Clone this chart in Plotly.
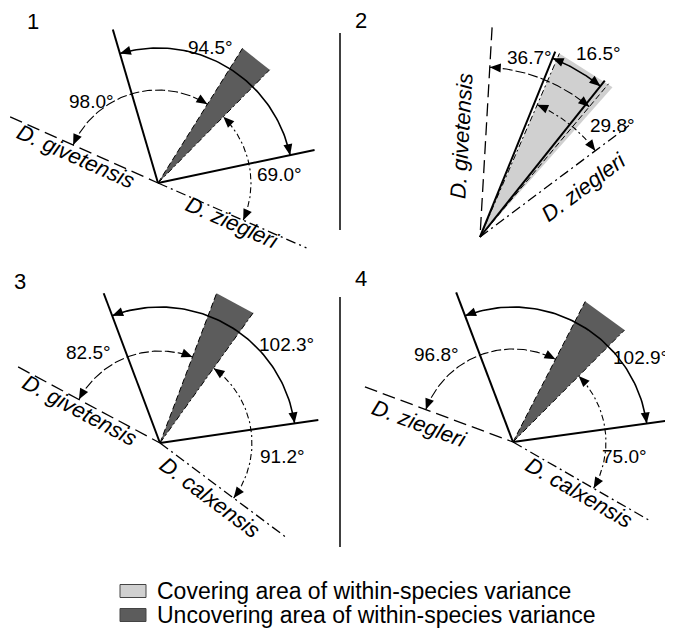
import numpy as np
import plotly.graph_objects as go

# ---------------- data ----------------
panel_ids = ["1", "2", "3", "4"]
between_angle = [94.5, 16.5, 102.3, 102.9]      # solid double arrow between the two solid lines
left_angle = [98.0, 36.7, 82.5, 96.8]           # from left species axis to wedge edge
right_angle = [69.0, 29.8, 91.2, 75.0]          # from right species axis to wedge edge
left_species = ["D. givetensis", "D. givetensis", "D. givetensis", "D. ziegleri"]
right_species = ["D. ziegleri", "D. ziegleri", "D. calxensis", "D. calxensis"]
legend_labels = ["Covering area of within-species variance",
                 "Uncovering area of within-species variance"]

# ---------------- geometry (pixel layout) ----------------
geom = [
    dict(o=(158, 183), solid_dir=11.9, solid_len=160, ldir=155.9, llen=162, rdir=-23.6, rlen=162,
         wedge_r=159, r_b=135, r_l=93, r_r=93,
         lab_b=(210, 47), lab_l=(91, 101), lab_r=(279, 174),
         num=(33, 21), sp_l=(76, 156), sp_r=(232, 222)),
    dict(o=(480, 237), solid_dir=51.4, solid_len=200, ldir=86.7, llen=210, rdir=36.8, rlen=186,
         wedge_r=200, r_b=193, r_l=170, r_r=144,
         lab_b=(598, 53), lab_l=(529, 57), lab_r=(612, 125),
         num=(361, 20), sp_l=(461, 136), sp_r=(583, 187)),
    dict(o=(160, 443), solid_dir=8.3, solid_len=160, ldir=151.8, llen=161, rdir=-36.8, rlen=159,
         wedge_r=160, r_b=136, r_l=92, r_r=92,
         lab_b=(286, 344), lab_l=(88, 352), lab_r=(282, 456),
         num=(20, 281), sp_l=(80, 410), sp_r=(210, 497)),
    dict(o=(513, 442), solid_dir=7.9, solid_len=160, ldir=159.6, llen=158, rdir=-29.9, rlen=160,
         wedge_r=158, r_b=135, r_l=93, r_r=93,
         lab_b=(640, 357), lab_l=(436, 354), lab_r=(624, 456),
         num=(361, 278), sp_l=(419, 423), sp_r=(579, 492)),
]

W, H, OFF = 673, 629, 8   # page body margin offsets the figure by OFF px

DARK = "#5c5c5c"
LIGHT = "#d0d0d0"
FONT = "Liberation Sans, Arial, sans-serif"
DASH = "13px,6px"
DASHDOT = "10px,4px,2px,4px"
ARC_DASH = "10px,3px"
ARC_DASHDOT = "6px,3px,2px,3px"

fig = go.Figure()


def pt(o, ang, r):
    a = np.deg2rad(ang)
    return o[0] + r * np.cos(a), o[1] - r * np.sin(a)


def add_line(xs, ys, width=1.5, dash="solid", color="black"):
    fig.add_trace(go.Scatter(x=list(xs), y=list(ys), mode="lines",
                             line=dict(color=color, width=width, dash=dash),
                             hoverinfo="skip", showlegend=False, cliponaxis=False))


def add_poly(xs, ys, fill, line_color=None, width=0):
    xs = list(xs) + [xs[0]]
    ys = list(ys) + [ys[0]]
    fig.add_trace(go.Scatter(x=xs, y=ys, mode="lines", fill="toself", fillcolor=fill,
                             line=dict(color=line_color or fill, width=width),
                             hoverinfo="skip", showlegend=False))


def arrowhead(o, ang, r, sign, length=11, half=4.5):
    tx, ty = pt(o, ang, r)
    a = np.deg2rad(ang)
    dx, dy = -np.sin(a) * sign, -np.cos(a) * sign   # travel direction (screen)
    bx, by = tx - length * dx, ty - length * dy
    px, py = -dy, dx
    add_poly([tx, bx + half * px, bx - half * px], [ty, by + half * py, by - half * py], "black")


def arc(o, a0, a1, r, width, dash):
    th = np.linspace(a0, a1, 80)
    xs, ys = zip(*[pt(o, t, r) for t in th])
    add_line(xs, ys, width=width, dash=dash)
    s = 1 if a1 > a0 else -1
    arrowhead(o, a1, r, s)
    arrowhead(o, a0, r, -s)


annotations = []


def text(x, y, s, size, angle=0, xanchor="center"):
    annotations.append(dict(x=x, y=y, xref="x", yref="y", text=s, showarrow=False,
                            textangle=angle, xanchor=xanchor, yanchor="middle",
                            font=dict(family=FONT, size=size, color="black")))


def read_angle(d):
    a = d
    if a > 90:
        a -= 180
    if a <= -90:
        a += 180
    return -a


for i, g in enumerate(geom):
    o = g["o"]
    L, R = g["ldir"], g["rdir"]
    edge_l = L - left_angle[i]        # wedge edge reached from left species axis
    edge_r = R + right_angle[i]       # wedge edge reached from right species axis
    covering = edge_l < edge_r
    lo, hi = min(edge_l, edge_r), max(edge_l, edge_r)
    pad = 1.5 if covering else 0.0
    w = g["wedge_r"]

    # wedge
    p1 = pt(o, lo - pad, w)
    p2 = pt(o, hi, w)
    add_poly([o[0], p1[0], p2[0]], [o[1], p1[1], p2[1]], LIGHT if covering else DARK)

    # thin edge lines
    e1 = pt(o, edge_l, w)
    add_line([o[0], e1[0]], [o[1], e1[1]], width=1.0, dash="6px,3px")
    e2 = pt(o, edge_r, w)
    add_line([o[0], e2[0]], [o[1], e2[1]], width=1.0, dash=ARC_DASHDOT)

    # species axes
    sl = pt(o, L, g["llen"])
    add_line([sl[0], o[0]], [sl[1], o[1]], width=1.3, dash=DASH)
    sr = pt(o, R, g["rlen"])
    add_line([o[0], sr[0]], [o[1], sr[1]], width=1.3, dash=DASHDOT)

    # solid lines
    s0 = g["solid_dir"]
    s1 = s0 + between_angle[i]
    for a in (s0, s1):
        q = pt(o, a, g["solid_len"])
        add_line([o[0], q[0]], [o[1], q[1]], width=2.0)

    # arcs
    arc(o, s1, s0, g["r_b"], 1.6, "solid")
    arc(o, L, edge_l, g["r_l"], 1.1, ARC_DASH)
    arc(o, R, edge_r, g["r_r"], 1.1, ARC_DASHDOT)

    # labels
    text(*g["lab_b"], f"{between_angle[i]:.1f}°", 19)
    text(*g["lab_l"], f"{left_angle[i]:.1f}°", 19)
    text(*g["lab_r"], f"{right_angle[i]:.1f}°", 19)
    text(*g["num"], panel_ids[i], 22)
    text(*g["sp_l"], f"<i>{left_species[i]}</i>", 22, read_angle(L))
    text(*g["sp_r"], f"<i>{right_species[i]}</i>", 22, read_angle(R))

# separators
add_line([340, 340], [33, 230], width=1.5)
add_line([340, 340], [297, 547], width=1.5)

# legend
shapes = []
for k, (lab, col, yc) in enumerate(zip(legend_labels, [LIGHT, DARK], [591, 615])):
    shapes.append(dict(type="rect", xref="x", yref="y", x0=120, x1=146, y0=yc - 6.5, y1=yc + 6.5,
                       fillcolor=col, line=dict(color="#444444", width=1)))
    text(155, yc, lab, 23, xanchor="left")

fig.update_layout(
    width=W - OFF, height=H - OFF,
    margin=dict(l=0, r=0, t=0, b=0),
    paper_bgcolor="white", plot_bgcolor="white",
    xaxis=dict(range=[OFF, W], visible=False, fixedrange=True),
    yaxis=dict(range=[H, OFF], visible=False, fixedrange=True),
    annotations=annotations, shapes=shapes,
    showlegend=False,
)

fig.write_html("out.html")
